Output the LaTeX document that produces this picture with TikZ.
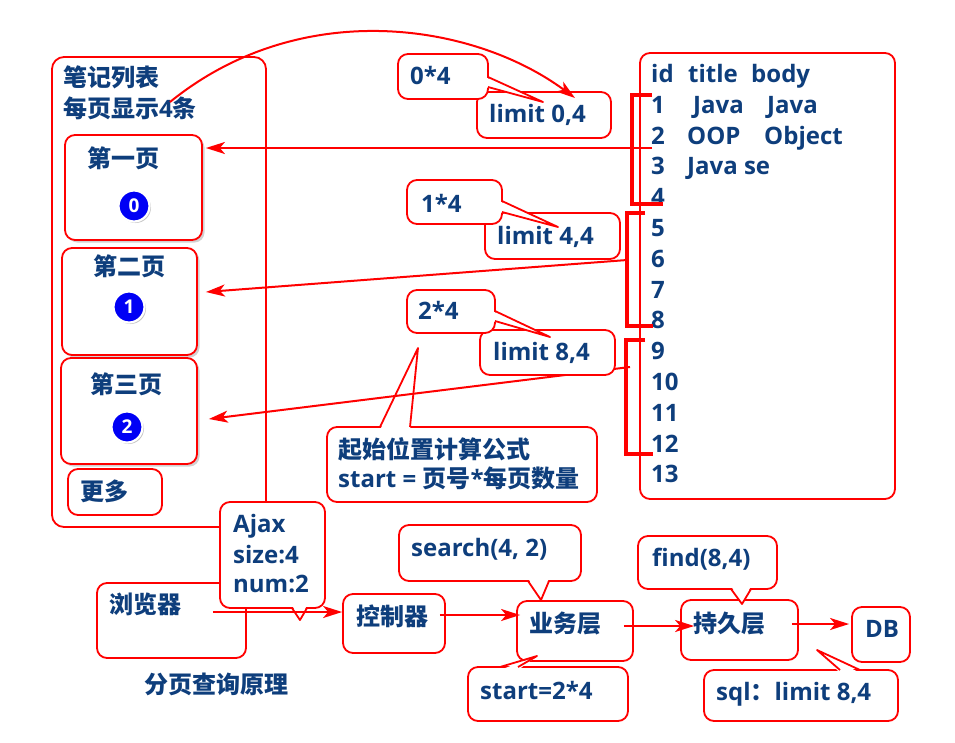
\documentclass[tikz,border=0pt]{standalone}
\usepackage{fontspec}
\setmainfont{Open Sans}
\newfontfamily\cjkfont{Noto Sans CJK SC}
\newcommand\zhtxt[1]{{\cjkfont #1}}
\usetikzlibrary{arrows.meta,shadows,calc}
\definecolor{txtblue}{RGB}{14,62,124}
\definecolor{boxred}{RGB}{255,0,0}
\definecolor{circblue}{RGB}{0,0,245}
\begin{document}
\begin{tikzpicture}[x=1pt,y=-1pt,
  rect/.style n args={4}{at={({(#1+#3)/2},{(#2+#4)/2})},
     minimum width={(#3-#1)*1pt}, minimum height={(#4-#2)*1pt}},
  box/.style={draw=boxred, line width=1.8pt, fill=white, rounded corners=10pt, inner sep=0pt},
  sbox/.style={box, drop shadow={opacity=0.35, shadow xshift=2.5pt, shadow yshift=-2.5pt}},
  lbl/.style={anchor=base west, inner sep=0pt, text=txtblue,
     font=\bfseries\fontsize{24}{30}\selectfont},
  circ/.style={circle, fill=circblue, draw=white, line width=2.2pt, minimum size=31pt,
     inner sep=0pt, text=white, font=\bfseries\fontsize{19}{19}\selectfont,
     drop shadow={opacity=0.45, shadow xshift=1.5pt, shadow yshift=-1.5pt}},
  bracket/.style={draw=boxred, line width=3.5pt},
  arr/.style={draw=boxred, line width=2pt, -{Stealth[length=19pt,width=12pt,inset=5pt]}},
  tail/.style={draw=boxred, line width=1.8pt, line join=round}
]
\useasboundingbox (0,0) rectangle (955,742);

% ---------- left list panel ----------
\node[box, rounded corners=12pt, rect={52}{57}{266}{527}] (list) {};
\node[lbl] (ttl1) at (63,86) {\zhtxt{笔记列表}};
\node[lbl] (ttl2) at (63,117) {\zhtxt{每页显示}4\zhtxt{条}};

\node[sbox, rect={65}{135}{202}{240}] (p1) {};
\node[sbox, rect={62}{248}{197}{355}] (p2) {};
\node[sbox, rect={61}{358}{197}{464}] (p3) {};
\node[box, rect={68}{469}{162}{515}] (more) {};
\node[lbl] (p1t) at (87,167) {\zhtxt{第一页}};
\node[lbl] (p2t) at (93,275) {\zhtxt{第二页}};
\node[lbl] (p3t) at (90,393) {\zhtxt{第三页}};
\node[lbl] (moret) at (80,500) {\zhtxt{更多}};
\node[circ] (n0) at (134,206) {0};
\node[circ] (n1) at (129,307) {1};
\node[circ] (n2) at (127,427) {2};

% ---------- table ----------
\node[box, rect={640}{53}{895}{499}] (table) {};
\node[lbl] (h1) at (651,82.5) {id};
\node[lbl] (h2) at (688,82.5) {title};
\node[lbl] (h3) at (751,82.5) {body};
\node[lbl] (r1a) at (651,113.3) {1};
\node[lbl] (r1b) at (693,113.3) {Java};
\node[lbl] (r1c) at (767,113.3) {Java};
\node[lbl] (r2a) at (651,144.1) {2};
\node[lbl] (r2b) at (687,144.1) {OOP};
\node[lbl] (r2c) at (764,144.1) {Object};
\node[lbl] (r3a) at (651,174.9) {3};
\node[lbl] (r3b) at (687,174.9) {Java se};
\foreach \k in {4,...,13}{
  \node[lbl] (row\k) at (651,{82.5+30.8*\k}) {\k};
}
% brackets
\draw[bracket] (652,95) -- (632,95) -- (632,204) -- (663,204);
\draw[bracket] (645,213) -- (627,213) -- (627,326) -- (653,326);
\draw[bracket] (645,340) -- (626,340) -- (626,454) -- (653,454);
\coordinate (b1) at (652,148);
\coordinate (b2) at (627,260);
\coordinate (b3) at (630,367);

% ---------- formula callout ----------
\node[box, rect={327}{427}{597}{502}] (formula) {};
\fill[white] (380,430) -- (418,348) -- (410,430) -- cycle;
\draw[tail] (380,427) -- (418,348) -- (410,427);
\node[lbl] (f1) at (338,458) {\zhtxt{起始位置计算公式}};
\node[lbl] (f2) at (338,487) {start = \zhtxt{页号}*\zhtxt{每页数量}};

% ---------- arrows to pages ----------
\draw[arr] (b1) -- ($(b1 -| p1.east)+(3,0)$);
\draw[arr] (b2) -- ($(p2.east)+(8,-9.5)$);
\draw[arr] (b3) -- ($(p3.east)+(11,8)$);

% ---------- limit boxes and callouts ----------
\node[box, rect={477}{92}{611}{138}] (lim0) {};
\node[box, rect={485}{213}{620}{259}] (lim4) {};
\node[box, rect={480}{330}{615}{375}] (lim8) {};
\node[lbl] (lim0t) at (489,122) {limit 0,4};
\node[lbl] (lim4t) at (497,244) {limit 4,4};
\node[lbl] (lim8t) at (493,360) {limit 8,4};

\node[box, rect={398}{54}{488}{99}] (c0) {};
\fill[white] (485,77) -- (543,102) -- (485,87) -- cycle;
\draw[tail] (488,77) -- (543,102) -- (488,87);
\node[lbl] (c0t) at (410,84) {0*4};

\node[box, rect={407}{180}{502}{224}] (c1) {};
\fill[white] (499,201) -- (558,227) -- (499,212) -- cycle;
\draw[tail] (502,201) -- (558,227) -- (502,212);
\node[lbl] (c1t) at (421,212) {1*4};

\node[box, rect={407}{290}{495}{333}] (c2) {};
\fill[white] (492,311) -- (550,337) -- (492,321) -- cycle;
\draw[tail] (495,311) -- (550,337) -- (495,321);
\node[lbl] (c2t) at (418,319) {2*4};

% ---------- curved arrow ----------
\coordinate (cs) at (170,102);
\coordinate (ce) at (575,98);
\draw[arr] (cs) .. controls (300.6,-4) and (473.4,22.8) .. (ce);

% ---------- bottom flow ----------
\node[box, rect={97}{583}{246}{658}] (browser) {};
\node[lbl] (browsert) at (109,613) {\zhtxt{浏览器}};
\node[box, rect={220}{502}{325}{608}] (ajax) {};
\fill[white] (292,605) -- (300,620) -- (307,605) -- cycle;
\draw[tail] (292,608) -- (300,620) -- (307,608);
\node[lbl] (ajax1) at (233,532) {Ajax};
\node[lbl] (ajax2) at (233,563) {size:4};
\node[lbl] (ajax3) at (233,592) {num:2};

\node[box, rect={343}{594}{445}{653}] (ctrl) {};
\node[lbl] (ctrlt) at (356,625) {\zhtxt{控制器}};
\node[box, rect={517}{601}{633}{661}] (biz) {};
\node[lbl] (bizt) at (529,632) {\zhtxt{业务层}};
\node[box, rect={681}{600}{798}{660}] (dao) {};
\node[lbl] (daot) at (693,632) {\zhtxt{持久层}};
\node[box, rect={852}{607}{910}{662}] (db) {};
\node[lbl] (dbt) at (865,637) {DB};

\node[box, rect={399}{525}{581}{581}] (search) {};
\fill[white] (528,578) -- (541,600) -- (549,578) -- cycle;
\draw[tail] (528,581) -- (541,600) -- (549,581);
\node[lbl] (searcht) at (411,556.5) {search(4, 2)};

\node[box, rect={468}{667}{628}{721}] (start) {};
\fill[white] (500,670) -- (537,656) -- (518,670) -- cycle;
\draw[tail] (500,667) -- (537,656) -- (518,667);
\node[lbl] (startt) at (480,699) {start=2*4};

\node[box, rect={638}{536}{777}{589}] (find) {};
\fill[white] (731,586) -- (742,604) -- (751,586) -- cycle;
\draw[tail] (731,589) -- (742,604) -- (751,589);
\node[lbl] (findt) at (652,566) {find(8,4)};

\node[box, rect={704}{670}{898}{721}] (sql) {};
\fill[white] (840,673) -- (817,650) -- (860,673) -- cycle;
\draw[tail] (840,670) -- (817,650) -- (860,670);
\node[lbl] (sqlt) at (716,700) {sql\zhtxt{：}limit 8,4};

\node[lbl] (caption) at (144,693) {\zhtxt{分页查询原理}};

% flow arrows
\coordinate (s1) at ($(browser.east)+(-34,-8.5)$);
\draw[arr] (s1) -- (s1 -| ctrl.west);
\coordinate (s2) at ($(ctrl.east)+(-6,-8.5)$);
\draw[arr] (s2) -- ($(s2 -| biz.west)+(4,0)$);
\coordinate (s3) at ($(biz.east)+(-10,-5)$);
\draw[arr] (s3) -- ($(s3 -| dao.west)+(14,0)$);
\coordinate (s4) at ($(dao.east)+(-7,-6)$);
\draw[arr] (s4) -- ($(s4 -| db.west)+(-2,0)$);
\end{tikzpicture}
\end{document}
